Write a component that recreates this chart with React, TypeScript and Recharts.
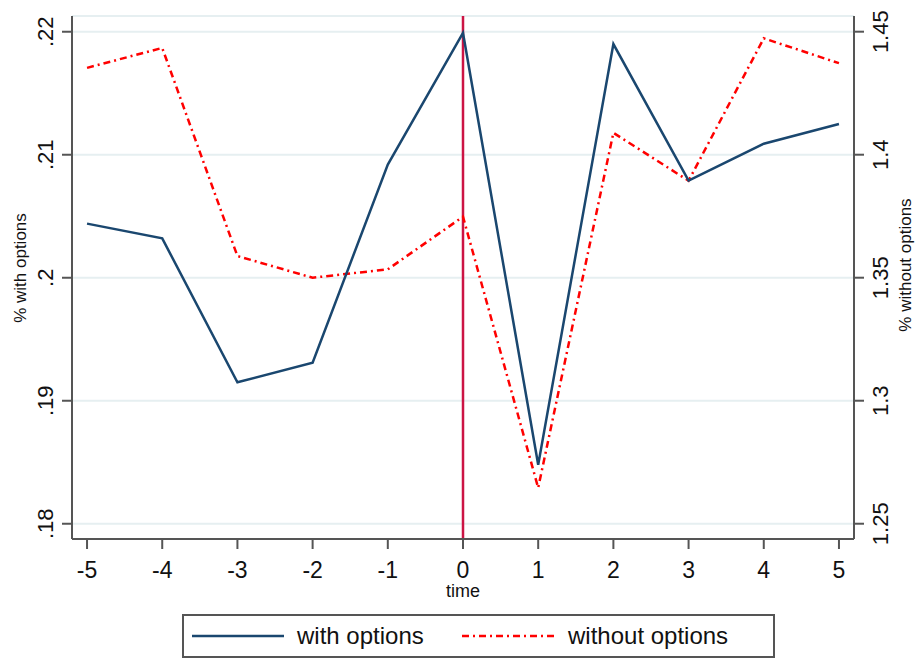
import { ComposedChart, Line, XAxis, YAxis, CartesianGrid, ReferenceLine, Label } from "recharts";

const times = [-5, -4, -3, -2, -1, 0, 1, 2, 3, 4, 5];
const withOptions = [0.2044, 0.2032, 0.1915, 0.1931, 0.2092, 0.2199, 0.1848, 0.219, 0.2079, 0.2109, 0.2125];
const withoutOptions = [1.4353, 1.4434, 1.3588, 1.35, 1.3534, 1.3748, 1.2646, 1.4089, 1.3894, 1.4473, 1.4372];

const leftTicks = [0.18, 0.19, 0.2, 0.21, 0.22];
const leftTickLabels = [".18", ".19", ".2", ".21", ".22"];
const rightTicks = [1.25, 1.3, 1.35, 1.4, 1.45];
const rightTickLabels = ["1.25", "1.3", "1.35", "1.4", "1.45"];

const FONT = '"Liberation Sans", Arial, sans-serif';
const NAVY = "#1a476f";
const RED = "#ff0000";
const AXIS = "#555555";

const chartData = times.map((t, i) => ({
  time: t,
  withOpt: withOptions[i],
  withoutOpt: withoutOptions[i],
}));

function labelFor(ticks: number[], labels: string[], v: number) {
  const i = ticks.findIndex((t) => Math.abs(t - v) < 1e-9);
  return i >= 0 ? labels[i] : String(v);
}

// rotated tick labels, Stata style
function LeftTick(props: any) {
  const { x, y, payload } = props;
  const cx = x - 14;
  return (
    <text x={cx} y={y} transform={`rotate(-90 ${cx} ${y})`} textAnchor="middle" dominantBaseline="central"
      fontSize={22} fontFamily={FONT} fill="#111">
      {labelFor(leftTicks, leftTickLabels, payload.value)}
    </text>
  );
}

function RightTick(props: any) {
  const { x, y, payload } = props;
  const cx = x + 15;
  return (
    <text x={cx} y={y} transform={`rotate(-90 ${cx} ${y})`} textAnchor="middle" dominantBaseline="central"
      fontSize={22} fontFamily={FONT} fill="#111">
      {labelFor(rightTicks, rightTickLabels, payload.value)}
    </text>
  );
}

function BottomTick(props: any) {
  const { x, y, payload } = props;
  return (
    <text x={x} y={y + 27} textAnchor="middle" fontSize={23} fontFamily={FONT} fill="#111">
      {String(payload.value)}
    </text>
  );
}

function LegendBox() {
  const item = { position: "absolute" as const, top: 0, height: 40, display: "flex", alignItems: "center" };
  return (
    <div
      style={{
        position: "absolute",
        left: 182,
        top: 614,
        width: 589,
        height: 40,
        border: `2px solid ${AXIS}`,
        fontFamily: FONT,
        fontSize: 24,
        color: "#111",
      }}
    >
      <div style={{ ...item, left: 8 }}>
        <svg width={92} height={6}>
          <line x1={0} y1={3} x2={92} y2={3} stroke={NAVY} strokeWidth={2.5} />
        </svg>
      </div>
      <div style={{ ...item, left: 113 }}>with options</div>
      <div style={{ ...item, left: 278 }}>
        <svg width={92} height={6}>
          <line x1={0} y1={3} x2={92} y2={3} stroke={RED} strokeWidth={2.5} strokeDasharray="7 4 2 4" />
        </svg>
      </div>
      <div style={{ ...item, left: 384 }}>without options</div>
    </div>
  );
}

export default function App() {
  return (
    <div style={{ position: "relative", width: 919, height: 659, background: "#fff" }}>
      <style>{"body{margin:0}"}</style>
      <ComposedChart width={919} height={659} data={chartData} margin={{ top: 16, right: 0, bottom: 0, left: 0 }}>
        <CartesianGrid yAxisId="left" vertical={false} stroke="#e6eff1" strokeWidth={2} />
        <XAxis
          dataKey="time"
          type="number"
          domain={[-5.2, 5.2]}
          allowDataOverflow
          ticks={times}
          interval={0}
          height={120}
          tickSize={10}
          axisLine={{ stroke: AXIS, strokeWidth: 2 }}
          tickLine={{ stroke: AXIS, strokeWidth: 2 }}
          tick={<BottomTick />}
        >
          <Label
            content={() => (
              <text x={463} y={597} textAnchor="middle" fontSize={18} fontFamily={FONT} fill="#111">
                time
              </text>
            )}
          />
        </XAxis>
        <YAxis
          yAxisId="left"
          orientation="left"
          width={72}
          domain={[0.17876, 0.22128]}
          allowDataOverflow
          ticks={leftTicks}
          interval={0}
          tickSize={10}
          axisLine={{ stroke: AXIS, strokeWidth: 2 }}
          tickLine={{ stroke: AXIS, strokeWidth: 2 }}
          tick={<LeftTick />}
        >
          <Label
            content={() => (
              <text x={20} y={268} transform="rotate(-90 20 268)" textAnchor="middle" dominantBaseline="central"
                fontSize={17} fontFamily={FONT} fill="#111">
                % with options
              </text>
            )}
          />
        </YAxis>
        <YAxis
          yAxisId="right"
          orientation="right"
          width={65}
          domain={[1.24379, 1.45638]}
          allowDataOverflow
          ticks={rightTicks}
          interval={0}
          tickSize={10}
          axisLine={{ stroke: AXIS, strokeWidth: 2 }}
          tickLine={{ stroke: AXIS, strokeWidth: 2 }}
          tick={<RightTick />}
        >
          <Label
            content={() => (
              <text x={905} y={265} transform="rotate(-90 905 265)" textAnchor="middle" dominantBaseline="central"
                fontSize={17} fontFamily={FONT} fill="#111">
                % without options
              </text>
            )}
          />
        </YAxis>
        <ReferenceLine yAxisId="left" x={0} stroke="#cc1444" strokeWidth={2.5} />
        <Line
          yAxisId="right"
          type="linear"
          dataKey="withoutOpt"
          stroke={RED}
          strokeWidth={2.5}
          strokeDasharray="7 4 2 4"
          dot={false}
          isAnimationActive={false}
        />
        <Line
          yAxisId="left"
          type="linear"
          dataKey="withOpt"
          stroke={NAVY}
          strokeWidth={2.5}
          dot={false}
          isAnimationActive={false}
        />
      </ComposedChart>
      <LegendBox />
    </div>
  );
}
